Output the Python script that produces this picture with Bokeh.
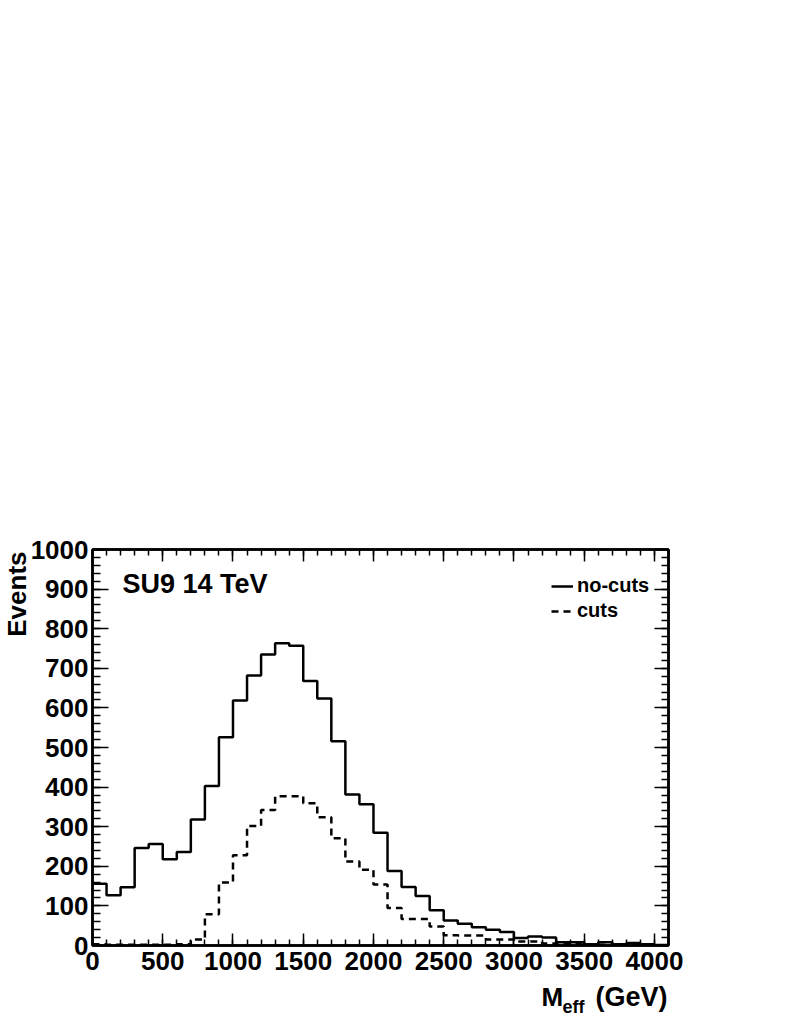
import math
from bokeh.plotting import figure
from bokeh.layouts import row, column
from bokeh.models import (LinearAxis, SingleIntervalTicker, Label, Legend,
                          LegendItem, Range1d, ColumnDataSource)
from bokeh.embed import file_html
from bokeh.resources import INLINE

# ---- data (100 GeV bins from 0 to 4100 GeV) ----
bin_edges = list(range(0, 4200, 100))
no_cuts = [156, 127, 147, 246, 256, 218, 236, 318, 403, 526,
           619, 682, 735, 763, 757, 668, 624, 516, 381, 357,
           285, 188, 148, 125, 89, 63, 55, 46, 40, 34,
           19, 23, 20, 8, 8, 3, 8, 3, 6, 3, 1]
cuts = [3, 2, 2, 2, 2, 2, 3, 15, 79, 159,
        228, 302, 342, 377, 377, 359, 324, 271, 212, 191,
        154, 95, 67, 67, 48, 26, 25, 25, 15, 15,
        10, 10, 5, 3, 3, 1, 2, 1, 1, 1, 0]
x_ticks_interval = 500
y_ticks_interval = 100
x_title_main = "M"
x_title_sub = "eff"
x_title_unit = "(GeV)"
y_title = "Events"
caption = "SU9 14 TeV"
series_names = ["no-cuts", "cuts"]

FONT = "Liberation Sans"

# page geometry
LEFT_W = 27
TOTAL_W = 780
MAIN_H = 982
BOTTOM_H = 37
TOTAL_H = MAIN_H + BOTTOM_H

src_nc = ColumnDataSource(dict(x=bin_edges, y=no_cuts + [no_cuts[-1]]))
src_c = ColumnDataSource(dict(x=bin_edges, y=cuts + [cuts[-1]]))

p = figure(width=TOTAL_W - LEFT_W, height=MAIN_H,
           x_range=Range1d(0, 4100), y_range=Range1d(0, 1000),
           output_backend="svg", toolbar_location=None,
           min_border_left=65, min_border_right=112,
           min_border_top=549, min_border_bottom=37)
p.xgrid.visible = False
p.ygrid.visible = False
p.outline_line_color = "black"
p.outline_line_width = 2.5
p.background_fill_color = "white"
p.border_fill_color = "white"


def style_axis(ax, interval, maj, mnr, labels=True):
    ax.ticker = SingleIntervalTicker(interval=interval, num_minor_ticks=5)
    ax.axis_line_color = "black"
    ax.axis_line_width = 2.5
    ax.major_tick_in = maj
    ax.major_tick_out = 0
    ax.minor_tick_in = mnr
    ax.minor_tick_out = 0
    ax.major_tick_line_color = "black"
    ax.minor_tick_line_color = "black"
    ax.major_tick_line_width = 1.5
    ax.minor_tick_line_width = 1.5
    if labels:
        ax.major_label_text_font = FONT
        ax.major_label_text_font_style = "bold"
        ax.major_label_text_font_size = "26px"
        ax.major_label_text_color = "black"
    else:
        ax.major_label_text_font_size = "0px"
        ax.major_label_text_color = None


style_axis(p.xaxis[0], x_ticks_interval, 12, 6)
p.xaxis[0].major_label_standoff = 6
style_axis(p.yaxis[0], y_ticks_interval, 16, 8)
p.yaxis[0].major_label_standoff = 4

top = LinearAxis()
style_axis(top, x_ticks_interval, 12, 6, labels=False)
p.add_layout(top, "above")
right = LinearAxis()
style_axis(right, y_ticks_interval, 14, 7, labels=False)
p.add_layout(right, "right")

r1 = p.step("x", "y", source=src_nc, mode="after", line_color="black",
            line_width=2.5)
r2 = p.step("x", "y", source=src_c, mode="after", line_color="black",
            line_width=2.5, line_dash="7 5")

legend = Legend(items=[LegendItem(label=series_names[0], renderers=[r1]),
                       LegendItem(label=series_names[1], renderers=[r2])],
                location=(459, 323), orientation="vertical",
                glyph_width=22, glyph_height=20, label_height=20,
                label_standoff=4, spacing=2, padding=0, margin=0,
                border_line_color=None, background_fill_alpha=0,
                label_text_font=FONT, label_text_font_style="bold",
                label_text_font_size="20px", label_text_color="black")
p.add_layout(legend)


def lab(fig, text, x, y, size, align="left", angle=0.0, xo=0, yo=0):
    fig.add_layout(Label(x=x, y=y, x_offset=xo, y_offset=yo, text=text,
                         text_font=FONT, text_font_style="bold",
                         text_font_size=size, text_color="black",
                         text_align=align, text_baseline="middle",
                         angle=angle))


# caption inside the frame
lab(p, caption, 0, 1000, "27px", xo=30, yo=-34)


def blank_fig(w, h, xr, yr):
    f = figure(width=w, height=h, x_range=xr, y_range=yr,
               output_backend="svg", toolbar_location=None,
               x_axis_type=None, y_axis_type=None,
               min_border=0, min_border_left=0, min_border_right=0,
               min_border_top=0, min_border_bottom=0)
    f.outline_line_color = None
    f.xgrid.visible = False
    f.ygrid.visible = False
    f.background_fill_color = "white"
    f.border_fill_color = "white"
    return f


# y-axis title strip (y coordinates = page pixels)
left_fig = blank_fig(LEFT_W, TOTAL_H, Range1d(0, LEFT_W), Range1d(TOTAL_H, 0))
lab(left_fig, y_title, 16, 551, "26px", align="right", angle=math.pi / 2)

# x-axis title strip: shares the x scale of the main plot, right aligned
bottom_fig = blank_fig(TOTAL_W - LEFT_W, BOTTOM_H,
                       p.x_range, Range1d(TOTAL_H, MAIN_H))
x_end = p.x_range.end
lab(bottom_fig, x_title_main, x_end, 996, "26px", xo=-127)
lab(bottom_fig, x_title_sub, x_end, 1006, "18px", xo=-106)
lab(bottom_fig, x_title_unit, x_end, 996, "27px", align="right", xo=-1)

layout = row(left_fig, column(p, bottom_fig, spacing=0), spacing=0)

open("out.html", "w").write(file_html(layout, INLINE))
